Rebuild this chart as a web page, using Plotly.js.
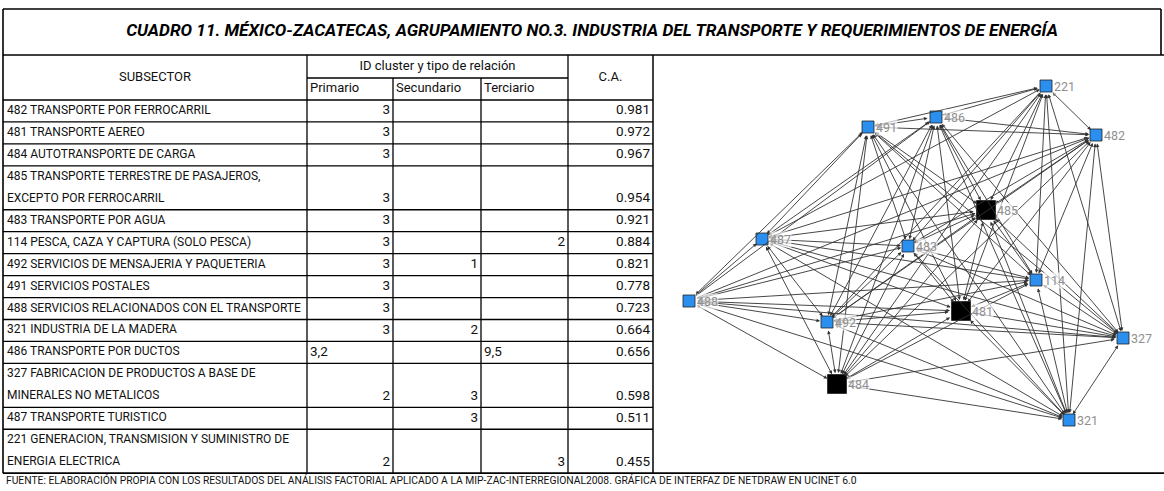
<!DOCTYPE html>
<html>
<head>
<meta charset="utf-8">
<script src="https://cdn.plot.ly/plotly-3.0.1.min.js"></script>
<style>html,body{margin:0;padding:0;background:#fff}#chart{width:1164px;height:491px}</style>
</head>
<body>
<div id="chart"></div>
<script>
// ---------- DATA ----------
const titleText = "CUADRO 11. MÉXICO-ZACATECAS, AGRUPAMIENTO NO.3. INDUSTRIA DEL TRANSPORTE Y REQUERIMIENTOS DE ENERGÍA";
const footerText = "FUENTE: ELABORACIÓN PROPIA CON LOS RESULTADOS DEL ANÁLISIS FACTORIAL APLICADO A LA MIP-ZAC-INTERREGIONAL2008. GRÁFICA DE INTERFAZ DE NETDRAW EN UCINET 6.0";
const headSubsector = "SUBSECTOR";
const headCluster = "ID cluster y tipo de relación";
const headTypes = ["Primario", "Secundario", "Terciario"];
const headCA = "C.A.";

const subsector = [
  "482 TRANSPORTE POR FERROCARRIL",
  "481 TRANSPORTE AEREO",
  "484 AUTOTRANSPORTE DE CARGA",
  "485 TRANSPORTE TERRESTRE DE PASAJEROS,<br>EXCEPTO POR FERROCARRIL",
  "483 TRANSPORTE POR AGUA",
  "114 PESCA, CAZA Y CAPTURA (SOLO PESCA)",
  "492 SERVICIOS DE MENSAJERIA Y PAQUETERIA",
  "491 SERVICIOS POSTALES",
  "488 SERVICIOS RELACIONADOS CON EL TRANSPORTE",
  "321 INDUSTRIA DE LA MADERA",
  "486 TRANSPORTE POR DUCTOS",
  "327 FABRICACION DE PRODUCTOS A BASE DE<br>MINERALES NO METALICOS",
  "487 TRANSPORTE TURISTICO",
  "221 GENERACION, TRANSMISION Y SUMINISTRO DE<br>ENERGIA ELECTRICA"
];
const primario   = ["3","3","3","3","3","3","3","3","3","3","3,2","2","","2"];
const secundario = ["","","","","","","1","","","2","","3","3",""];
const terciario  = ["","","","","","2","","","","","9,5","","","3"];
const ca = [0.981,0.972,0.967,0.954,0.921,0.884,0.821,0.778,0.723,0.664,0.656,0.598,0.511,0.455];

// network nodes (NetDraw layout positions)
const nodeIds   = ["221","486","491","482","485","487","483","114","488","481","492","327","484","321"];
const nodeX     = [1046, 936, 868, 1096, 986, 762, 908, 1036, 689, 961, 827, 1123, 837, 1069];
const nodeY     = [86, 117, 127, 135, 210, 239, 246, 280, 301, 311, 322, 338, 384, 420];
const nodeGroup = ["b","b","b","b","k","b","b","b","b","k","b","b","k","b"];

// ties: "a=b" reciprocal, "a>b" one-way
const ties = [
  "221=486","221=491","221=482","221=485","221>483","221=114","221=481","221=327","221=321","221>492","221=484","487>221",
  "486=491","486=482","486=485","486=487","486=483","486=114","486=481","486=492","486=327","486=321","486=484","488>486",
  "491=482","491=485","491=487","491=483","491=114","491=481","491=492","491=327","491=321","491=484","488=491",
  "482=485","482=487","482=483","482=114","482=481","482=492","482=327","482=321","482=484","488>482",
  "485=487","485=483","485=114","485=481","485=492","485=327","485=321","485=484","488=485",
  "487=483","487=114","487=481","487=492","487=327","487=321","487=484","488=487",
  "483=114","483=481","483=492","483=327","483=321","483=484","488>483",
  "114=481","114=492","114=327","114=321","114=484","488=114",
  "488=492","488=481","488=327","488=484","488>321",
  "481=492","481=327","481=321","481=484",
  "492=327","492=321","492=484",
  "327=321","327=484",
  "484=321"
];

// ---------- LAYOUT GEOMETRY ----------
const W = 1164, H = 491;
const FONT = '"Liberation Sans Narrow", "Arial Narrow", Roboto, sans-serif';
const colX = [3, 307, 393, 481, 568, 653];
const titleTop = 9, titleBot = 55, headMid = 78, headBot = 100;
const rowH = 21.95;
const rightX = 1161;

const rowLines = subsector.map(s => s.split("<br>").length);
const rowTop = [];
let yy = headBot;
rowLines.forEach(n => { rowTop.push(yy); yy += n * rowH; });
const tableBot = yy;

const shapes = [];
function L(x0, y0, x1, y1, w) {
  shapes.push({type: "line", xref: "x", yref: "y", x0, y0, x1, y1, line: {color: "#000", width: w || 1.3}});
}
// title box
L(colX[0], titleTop, rightX, titleTop, 1.6);
L(colX[0], titleTop, colX[0], tableBot, 1.6);
L(rightX, titleTop, rightX, titleBot, 1.6);
L(colX[0], titleBot, W, titleBot, 1.6);
// header
L(colX[1], headMid, colX[4], headMid);
L(colX[0], headBot, colX[5], headBot, 1.5);
L(colX[1], titleBot, colX[1], tableBot);
L(colX[2], headMid, colX[2], tableBot);
L(colX[3], headMid, colX[3], tableBot);
L(colX[4], titleBot, colX[4], tableBot);
L(colX[5], titleBot, colX[5], tableBot, 1.5);
// rows
rowTop.forEach((t, i) => { if (i > 0) L(colX[0], t, colX[5], t); });
L(colX[0], tableBot, W, tableBot, 1.6);

const traces = [];
function txt(xs, ys, ts, pos, size, color, fam) {
  traces.push({type: "scatter", mode: "text", x: xs, y: ys, text: ts, textposition: pos,
    textfont: {family: fam || FONT, size: size || 12.5, color: color || "#111"},
    hoverinfo: "skip", cliponaxis: false, showlegend: false});
}

// title & footer
txt([(colX[0] + rightX) / 2 + 10], [(titleTop + titleBot) / 2], ["<b><i>" + titleText + "</i></b>"], "middle center", 17.2, "#000");
txt([colX[0] + 3], [tableBot + 8], [footerText], "middle right", 10.3, "#111");

// headers
txt([(colX[0] + colX[1]) / 2], [(titleBot + headBot) / 2], [headSubsector], "middle center", 13);
txt([(colX[1] + colX[4]) / 2], [(titleBot + headMid) / 2], [headCluster], "middle center", 13);
txt([colX[1] + 3, colX[2] + 3, colX[3] + 3], [89, 89, 89], headTypes, "middle right", 13);
txt([(colX[4] + colX[5]) / 2], [(titleBot + headBot) / 2], [headCA], "middle center", 13);

// subsector lines
const sx = [], sy = [], st = [];
subsector.forEach((s, i) => {
  s.split("<br>").forEach((line, k) => { sx.push(colX[0] + 4); sy.push(rowTop[i] + (k + 0.5) * rowH); st.push(line); });
});
txt(sx, sy, st, "middle right", 12);

// numeric columns
function valCol(vals, c) {
  const rx = [], ry = [], rt = [], lx = [], ly = [], lt = [];
  vals.forEach((v, i) => {
    if (v === "") return;
    const y = rowTop[i] + (rowLines[i] - 0.5) * rowH;
    if (v.indexOf(",") >= 0) { lx.push(colX[c] + 3); ly.push(y); lt.push(v); }
    else { rx.push(colX[c + 1] - 3); ry.push(y); rt.push(v); }
  });
  if (rx.length) txt(rx, ry, rt, "middle left", 13.5);
  if (lx.length) txt(lx, ly, lt, "middle right", 13.5);
}
valCol(primario, 1);
valCol(secundario, 2);
valCol(terciario, 3);
valCol(ca.map(v => v.toFixed(3)), 4);

// ---------- NETWORK ----------
const idx = {};
nodeIds.forEach((id, i) => idx[id] = i);
const annotations = [];
ties.forEach(t => {
  const recip = t.indexOf("=") >= 0;
  const p = t.split(recip ? "=" : ">");
  const a = idx[p[0]], b = idx[p[1]];
  annotations.push({
    xref: "x", yref: "y", axref: "x", ayref: "y",
    x: nodeX[b], y: nodeY[b], ax: nodeX[a], ay: nodeY[a],
    text: "", showarrow: true, arrowhead: 2, arrowsize: 0.8, arrowwidth: 0.9,
    arrowcolor: "#333", arrowside: recip ? "end+start" : "end",
    standoff: nodeGroup[b] === "k" ? 11 : 7, startstandoff: nodeGroup[a] === "k" ? 11 : 7
  });
});
// node labels drawn above the ties
nodeIds.forEach((id, i) => {
  annotations.push({
    xref: "x", yref: "y", x: nodeX[i], y: nodeY[i], text: id, showarrow: false,
    xanchor: "left", yanchor: "middle", xshift: nodeGroup[i] === "k" ? 10 : 7,
    bgcolor: "rgba(255,255,255,0.65)", borderpad: 0,
    font: {family: FONT, size: 12.5, color: "#8f8f8f"}
  });
});

traces.push({
  type: "scatter", mode: "markers", x: nodeX, y: nodeY, text: nodeIds,
  marker: {symbol: "square", opacity: 1,
    size: nodeGroup.map(g => g === "k" ? 19 : 12),
    color: nodeGroup.map(g => g === "k" ? "#000" : "#2b8ff0"),
    line: {color: "#222", width: 0.8}},
  hoverinfo: "text", cliponaxis: false, showlegend: false
});

const layout = {
  width: W, height: H, margin: {l: 0, r: 0, t: 0, b: 0},
  paper_bgcolor: "#fff", plot_bgcolor: "#fff",
  xaxis: {range: [0, W], visible: false, fixedrange: true},
  yaxis: {range: [H, 0], visible: false, fixedrange: true},
  shapes, annotations, showlegend: false
};
Plotly.newPlot("chart", traces, layout, {staticPlot: true, displayModeBar: false});
</script>
</body>
</html>
